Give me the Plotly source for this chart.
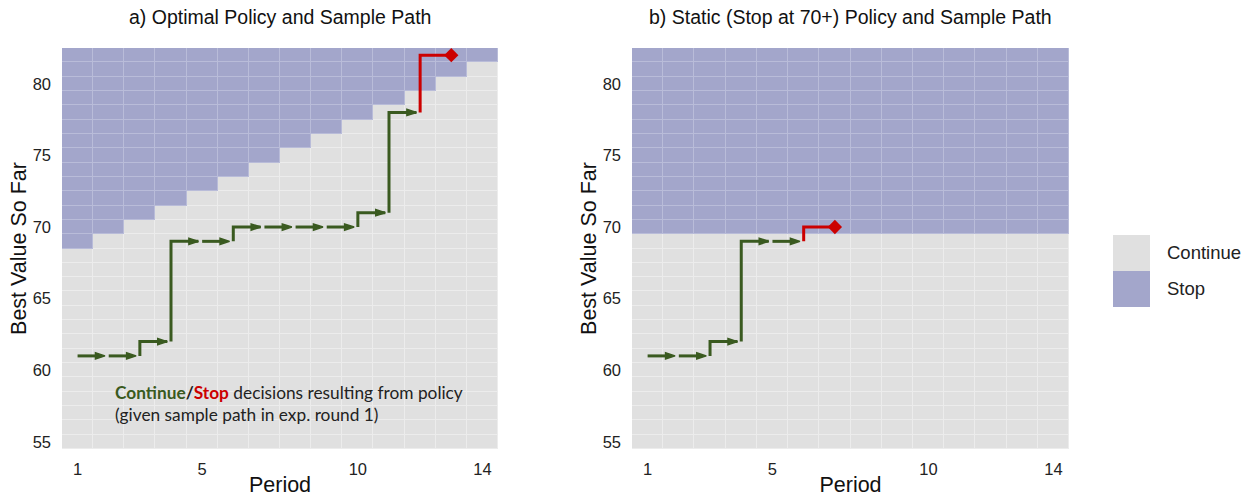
import plotly.graph_objects as go

# ---------------- data ----------------
periods = list(range(1, 15))
values = list(range(55, 83))
optimal_threshold = [69, 70, 71, 72, 73, 74, 75, 76, 77, 78, 79, 80, 81, 82]
static_threshold = [70] * 14

path_a_periods = [1, 2, 3, 4, 5, 6, 7, 8, 9, 10, 11, 12]
path_a_values = [61, 61, 62, 69, 69, 70, 70, 70, 70, 71, 78, 82]
path_b_periods = [1, 2, 3, 4, 5, 6]
path_b_values = [61, 61, 62, 69, 69, 70]

legend_labels = ["Continue", "Stop"]
x_ticks = [1, 5, 10, 14]
y_ticks = [55, 60, 65, 70, 75, 80]

titles = ["a) Optimal Policy and Sample Path",
          "b) Static (Stop at 70+) Policy and Sample Path"]

# ---------------- style ----------------
FONT = "Liberation Sans"
C_CONT = "#e0e0e0"
C_STOP = "#a3a6cb"
C_CONT_LINE = "#ececec"
C_STOP_LINE = "#b9bcd9"
GREEN = "#3a5a20"
RED = "#cc0000"
ARROW_LEN = 0.88

W, H = 1250, 498
ML, MR, MT, MB = 62, 10, 48, 49
PW = W - ML - MR
PH = H - MT - MB


def dom(a, b):
    return [(a - ML) / PW, (b - ML) / PW]


fig = go.Figure()


def z_matrix(thr):
    return [[1 if v >= thr[j] else 0 for j in range(len(periods))] for v in values]


def add_tiles(thr, xa, ya):
    z = z_matrix(thr)
    fig.add_trace(go.Heatmap(x=periods, y=values, z=z, zmin=0, zmax=1,
                             colorscale=[[0, C_CONT_LINE], [1, C_STOP_LINE]],
                             showscale=False, hoverinfo="skip", xaxis=xa, yaxis=ya))
    fig.add_trace(go.Heatmap(x=periods, y=values, z=z, zmin=0, zmax=1,
                             colorscale=[[0, C_CONT], [1, C_STOP]], xgap=1, ygap=1,
                             showscale=False, hoverinfo="skip", xaxis=xa, yaxis=ya))


def add_path(per, val, xa, ya):
    n = len(per)
    for i in range(n - 1):
        xs, ys = [], []
        if i > 0:
            xs.append(per[i]); ys.append(val[i - 1])
        xs += [per[i], per[i] + ARROW_LEN]
        ys += [val[i], val[i]]
        sizes = [0] * (len(xs) - 1) + [10]
        fig.add_trace(go.Scatter(x=xs, y=ys, mode="lines+markers",
                                 line=dict(color=GREEN, width=3),
                                 marker=dict(symbol="arrow", angleref="previous", size=sizes,
                                             color=GREEN, opacity=1,
                                             line=dict(width=1.5, color=GREEN)),
                                 showlegend=False, hoverinfo="skip", xaxis=xa, yaxis=ya))
    # stop decision
    xs = [per[-1], per[-1], per[-1] + 1]
    ys = [val[-2], val[-1], val[-1]]
    fig.add_trace(go.Scatter(x=xs, y=ys, mode="lines", line=dict(color=RED, width=3),
                             showlegend=False, hoverinfo="skip", xaxis=xa, yaxis=ya))
    fig.add_trace(go.Scatter(x=[xs[-1]], y=[ys[-1]], mode="markers",
                             marker=dict(symbol="diamond", size=11, color=RED, line=dict(width=0)),
                             showlegend=False, hoverinfo="skip", xaxis=xa, yaxis=ya))


add_tiles(optimal_threshold, "x", "y")
add_path(path_a_periods, path_a_values, "x", "y")
add_tiles(static_threshold, "x2", "y2")
add_path(path_b_periods, path_b_values, "x2", "y2")

# legend as a tiny heatmap
fig.add_trace(go.Heatmap(x=[0], y=legend_labels, z=[[0], [1]], zmin=0, zmax=1,
                         colorscale=[[0, C_CONT], [1, C_STOP]], showscale=False,
                         hoverinfo="skip", xaxis="x3", yaxis="y3"))

tickfont = dict(family=FONT, size=16.5, color="#222222")
titlefont = dict(family=FONT, size=21.5, color="#111111")

xcommon = dict(range=[0.5, 14.5], tickvals=x_ticks, showgrid=False, zeroline=False,
               showline=False, ticks="", tickfont=tickfont, ticklabelstandoff=8,
               title=dict(text="Period", font=titlefont, standoff=0))
ycommon = dict(range=[54.5, 82.5], tickvals=y_ticks, showgrid=False, zeroline=False,
               showline=False, ticks="", tickfont=tickfont, ticklabelstandoff=10,
               title=dict(text="Best Value So Far", font=titlefont, standoff=0))

fig.update_layout(
    width=W, height=H,
    margin=dict(l=ML, r=MR, t=MT, b=MB, autoexpand=False),
    paper_bgcolor="white", plot_bgcolor="white",
    showlegend=False,
    xaxis=dict(domain=dom(62, 498), anchor="y", **xcommon),
    yaxis=dict(domain=[0, 1], anchor="x", **ycommon),
    xaxis2=dict(domain=dom(632, 1069), anchor="y2", **xcommon),
    yaxis2=dict(domain=[0, 1], anchor="x2", **ycommon),
    xaxis3=dict(domain=dom(1113, 1150), anchor="y3", showticklabels=False, showgrid=False,
                zeroline=False, ticks=""),
    yaxis3=dict(domain=[(H - MB - 307) / PH, (H - MB - 235) / PH], anchor="x3", side="right",
                autorange="reversed", showgrid=False, zeroline=False, ticks="",
                tickfont=dict(family=FONT, size=18.5, color="#222222"), ticklabelstandoff=16),
)

# panel titles
for t, xa in zip(titles, ["xaxis", "xaxis2"]):
    d = fig.layout[xa].domain
    fig.add_annotation(text=t, xref="paper", yref="paper", x=(d[0] + d[1]) / 2,
                       y=1, yshift=31, xanchor="center", yanchor="middle", showarrow=False,
                       font=dict(family=FONT, size=19.5, color="#111111"))

# explanatory note
fig.add_annotation(
    text=(f"<b><span style='color:{GREEN}'>Continue</span>/<span style='color:{RED}'>Stop</span></b>"
          " decisions resulting from policy<br>(given sample path in exp. round 1)"),
    xref="x", yref="y", x=2.15, y=57.7, xanchor="left", yanchor="middle", align="left",
    showarrow=False, font=dict(family="Lato", size=17.3, color="#222222"))

fig.write_html("out.html", config={"displayModeBar": False},
               post_script="document.body.style.margin='0';document.body.style.overflow='hidden';")
